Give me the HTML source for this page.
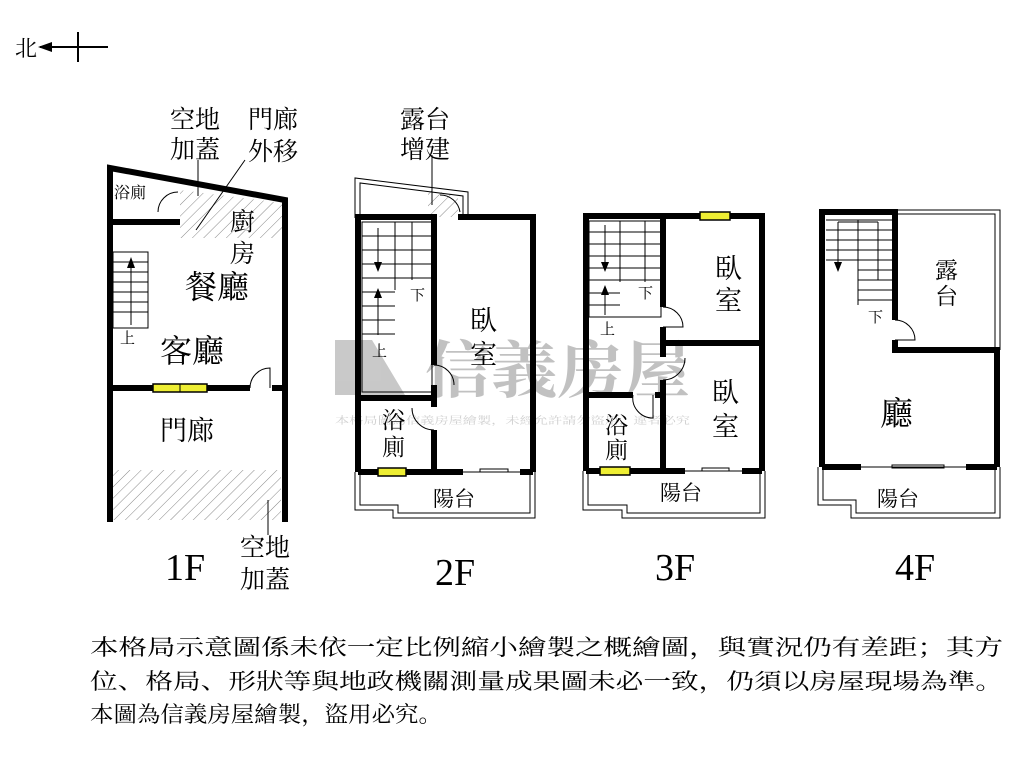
<!DOCTYPE html>
<html><head><meta charset="utf-8"><style>
body{margin:0;background:#fff;width:1024px;height:768px;overflow:hidden}
svg{position:absolute;left:0;top:0}
text{font-family:"Liberation Serif","Noto Serif CJK SC",serif;fill:#000}
</style></head><body>
<svg width="1024" height="768" viewBox="0 0 1024 768">
<defs>
<pattern id="h" width="8" height="8" patternUnits="userSpaceOnUse" patternTransform="rotate(45)">
<line x1="0" y1="0" x2="0" y2="8" stroke="#888" stroke-width="1"/></pattern>
</defs>
<!-- watermark -->
<g opacity="0.4" fill="#777">
<path d="M335 340 L372 340 L405 395 L335 395 Z"/>
<text x="425" y="392" font-size="62" font-weight="bold" font-family="Liberation Sans,Noto Sans CJK TC,sans-serif" style="fill:#666" textLength="265" lengthAdjust="spacingAndGlyphs">信義房屋</text>
<text x="335" y="424" font-size="10" style="fill:#888" textLength="355" lengthAdjust="spacingAndGlyphs">本格局圖為信義房屋繪製，未經允許請勿盜用，違者必究</text>
</g>
<!-- north -->
<text x="15" y="56" font-size="22">北</text>
<line x1="40" y1="47" x2="108" y2="47" stroke="#000" stroke-width="2"/>
<line x1="78" y1="32" x2="78" y2="62" stroke="#000" stroke-width="2"/>
<path d="M38 47 L52 42 L52 52 Z"/>
<!-- 1F -->
<rect x="113" y="470" width="168" height="50" fill="url(#h)"/>
<path d="M180 190 L283 203 L283 238 L180 238 Z" fill="url(#h)"/>
<g stroke="#000" stroke-width="6" fill="none">
<path d="M110 522 L110 168 L285 200 L285 522"/>
<line x1="110" y1="222" x2="180" y2="222"/>
<line x1="110" y1="388" x2="250" y2="388"/>
<line x1="272" y1="388" x2="285" y2="388"/>
</g>
<rect x="153" y="384" width="54" height="8" fill="#ee3" stroke="#000" stroke-width="1.5"/>
<line x1="180" y1="384" x2="180" y2="392" stroke="#000"/>
<path d="M250 388 A20 20 0 0 1 270 368 L270 388" fill="none" stroke="#000"/>
<path d="M158 212 A20 20 0 0 1 178 192" fill="none" stroke="#000"/>
<g stroke="#000" stroke-width="1" fill="none">
<rect x="113" y="252" width="35" height="76"/>
<line x1="113" y1="262" x2="148" y2="262"/><line x1="113" y1="272" x2="148" y2="272"/><line x1="113" y1="282" x2="148" y2="282"/><line x1="113" y1="292" x2="148" y2="292"/><line x1="113" y1="302" x2="148" y2="302"/><line x1="113" y1="312" x2="148" y2="312"/>
<line x1="131" y1="325" x2="131" y2="262"/>
<line x1="196" y1="230" x2="245" y2="160"/>
<line x1="198" y1="160" x2="198" y2="196"/>
<line x1="268" y1="500" x2="268" y2="535"/>
</g>
<path d="M131 257 L127 268 L135 268Z"/>
<text x="120" y="343" font-size="15">上</text>
<text x="114" y="198" font-size="16">浴廁</text>
<text x="230" y="230" font-size="25">廚</text>
<text x="230" y="262" font-size="25">房</text>
<text x="185" y="298" font-size="32">餐廳</text>
<text x="160" y="362" font-size="32">客廳</text>
<text x="160" y="440" font-size="27">門廊</text>
<text x="170" y="128" font-size="25">空地</text>
<text x="170" y="158" font-size="25">加蓋</text>
<text x="248" y="128" font-size="25">門廊</text>
<text x="248" y="160" font-size="25">外移</text>
<text x="240" y="556" font-size="25">空地</text>
<text x="240" y="588" font-size="25">加蓋</text>
<text x="165" y="580" font-size="38">1F</text>
<!-- 2F -->
<path d="M428 190 L458 195 L458 217 L428 217 Z" fill="url(#h)"/>
<g stroke="#000" stroke-width="1" fill="none">
<path d="M355 218 L355 178 L468 192 L468 218"/>
<path d="M360 218 L360 183 L463 196 L463 218"/>
<path d="M355 472 L355 510 L393 510 L393 518 L535 518 L535 472"/>
<path d="M360 472 L360 505 L398 505 L398 513 L530 513 L530 472"/>
<line x1="432" y1="155" x2="432" y2="205"/>
</g>
<g stroke="#000" stroke-width="6" fill="none">
<path d="M358 472 L358 217 L437 217"/>
<path d="M458 217 L533 217 L533 472"/>
<line x1="358" y1="472" x2="463" y2="472"/>
<line x1="520" y1="472" x2="533" y2="472"/>
<line x1="434" y1="217" x2="434" y2="365"/>
<line x1="434" y1="385" x2="434" y2="407"/>
<line x1="434" y1="430" x2="434" y2="472"/>
<line x1="358" y1="398" x2="434" y2="398"/>
</g>
<g stroke="#000" stroke-width="1" fill="none">
<rect x="362" y="222" width="70" height="170"/>
<line x1="395" y1="222" x2="395" y2="290"/><line x1="412" y1="222" x2="412" y2="280"/>
<line x1="362" y1="236" x2="432" y2="236"/><line x1="362" y1="250" x2="432" y2="250"/><line x1="362" y1="264" x2="432" y2="264"/><line x1="362" y1="278" x2="432" y2="278"/>
<line x1="362" y1="292" x2="395" y2="292"/><line x1="362" y1="306" x2="395" y2="306"/><line x1="362" y1="320" x2="395" y2="320"/><line x1="362" y1="334" x2="395" y2="334"/>
<line x1="378" y1="228" x2="378" y2="268"/><line x1="378" y1="292" x2="378" y2="335"/>
<path d="M434 365 A20 20 0 0 1 454 385"/><path d="M434 430 A22 22 0 0 1 412 408"/>
<path d="M460 212 A20 20 0 0 0 440 195"/>
<line x1="463" y1="472" x2="520" y2="472"/><rect x="480" y="469" width="28" height="3"/>
</g>
<path d="M378 272 L374 262 L382 262Z"/><path d="M378 288 L374 298 L382 298Z"/>
<rect x="378" y="468" width="28" height="8" fill="#ee3" stroke="#000" stroke-width="1.5"/>
<text x="372" y="356" font-size="15">上</text>
<text x="410" y="300" font-size="15">下</text>
<text x="470" y="330" font-size="27">臥</text>
<text x="470" y="364" font-size="27">室</text>
<text x="382" y="428" font-size="23">浴</text>
<text x="382" y="455" font-size="23">廁</text>
<text x="433" y="506" font-size="21">陽台</text>
<text x="400" y="128" font-size="25">露台</text>
<text x="400" y="158" font-size="25">增建</text>
<text x="435" y="585" font-size="38">2F</text>
<!-- 3F -->
<g stroke="#000" stroke-width="1" fill="none">
<path d="M583 471 L583 510 L622 510 L622 518 L765 518 L765 471"/>
<path d="M588 471 L588 505 L627 505 L627 513 L760 513 L760 471"/>
</g>
<g stroke="#000" stroke-width="6" fill="none">
<path d="M586 471 L586 216 L762 216 L762 471"/>
<line x1="586" y1="471" x2="685" y2="471"/><line x1="742" y1="471" x2="762" y2="471"/>
<line x1="663" y1="216" x2="663" y2="307"/>
<line x1="663" y1="327" x2="663" y2="357"/>
<line x1="663" y1="380" x2="663" y2="471"/>
<line x1="663" y1="343" x2="762" y2="343"/>
<line x1="586" y1="395" x2="633" y2="395"/><line x1="655" y1="395" x2="663" y2="395"/>
</g>
<g stroke="#000" stroke-width="1" fill="none">
<rect x="589" y="221" width="72" height="96"/>
<line x1="620" y1="221" x2="620" y2="282"/><line x1="645" y1="221" x2="645" y2="282"/>
<line x1="589" y1="232" x2="661" y2="232"/><line x1="589" y1="244" x2="661" y2="244"/><line x1="589" y1="256" x2="661" y2="256"/><line x1="589" y1="268" x2="661" y2="268"/><line x1="589" y1="280" x2="661" y2="280"/>
<line x1="589" y1="293" x2="620" y2="293"/><line x1="589" y1="305" x2="620" y2="305"/>
<line x1="605" y1="225" x2="605" y2="265"/><line x1="605" y1="287" x2="605" y2="315"/>
<path d="M663 307 A20 20 0 0 1 683 327 L663 327"/>
<path d="M663 380 A22 22 0 0 0 685 358"/>
<path d="M633 395 A20 20 0 0 0 653 418 L653 395"/>
<line x1="685" y1="471" x2="742" y2="471"/><rect x="702" y="468" width="27" height="3"/>
</g>
<path d="M605 272 L601 262 L609 262Z"/><path d="M605 285 L601 295 L609 295Z"/>
<rect x="700" y="212" width="30" height="8" fill="#ee3" stroke="#000" stroke-width="1.5"/>
<rect x="600" y="467" width="30" height="8" fill="#ee3" stroke="#000" stroke-width="1.5"/>
<text x="600" y="334" font-size="15">上</text>
<text x="638" y="298" font-size="15">下</text>
<text x="715" y="278" font-size="27">臥</text>
<text x="715" y="310" font-size="27">室</text>
<text x="712" y="402" font-size="27">臥</text>
<text x="712" y="436" font-size="27">室</text>
<text x="605" y="433" font-size="23">浴</text>
<text x="605" y="458" font-size="23">廁</text>
<text x="660" y="500" font-size="21">陽台</text>
<text x="655" y="580" font-size="38">3F</text>
<!-- 4F -->
<g stroke="#000" stroke-width="1" fill="none">
<path d="M895 210 L1000 210 L1000 350"/><path d="M895 214 L995 214 L995 350"/>
<path d="M818 467 L818 505 L851 505 L851 518 L1000 518 L1000 467"/>
<path d="M823 467 L823 500 L856 500 L856 513 L995 513 L995 467"/>
</g>
<g stroke="#000" stroke-width="6" fill="none">
<path d="M822 467 L822 212 L895 212 L895 320"/>
<path d="M895 340 L895 350 L997 350 L997 467"/>
<line x1="822" y1="467" x2="861" y2="467"/><line x1="966" y1="467" x2="997" y2="467"/>
</g>
<g stroke="#000" stroke-width="1" fill="none">
<line x1="826" y1="220" x2="893" y2="220"/>
<line x1="826" y1="230" x2="893" y2="230"/><line x1="826" y1="240" x2="893" y2="240"/><line x1="826" y1="250" x2="893" y2="250"/><line x1="826" y1="260" x2="893" y2="260"/>
<line x1="858" y1="270" x2="893" y2="270"/><line x1="858" y1="280" x2="893" y2="280"/><line x1="858" y1="290" x2="893" y2="290"/><line x1="858" y1="300" x2="893" y2="300"/>
<line x1="858" y1="220" x2="858" y2="305"/><line x1="838" y1="222" x2="838" y2="262"/><line x1="838" y1="222" x2="878" y2="222"/><line x1="878" y1="222" x2="878" y2="280"/>
<path d="M895 320 A20 20 0 0 1 915 340 L895 340"/>
<line x1="861" y1="467" x2="966" y2="467"/><rect x="892" y="465" width="52" height="3"/>
</g>
<path d="M838 272 L834 262 L842 262Z"/>
<text x="868" y="322" font-size="15">下</text>
<text x="935" y="278" font-size="23">露</text>
<text x="935" y="304" font-size="23">台</text>
<text x="880" y="425" font-size="33">廳</text>
<text x="877" y="506" font-size="21">陽台</text>
<text x="895" y="580" font-size="38">4F</text>
<!-- notes -->
<text x="90" y="655" font-size="22" textLength="913" lengthAdjust="spacingAndGlyphs">本格局示意圖係未依一定比例縮小繪製之概繪圖，與實況仍有差距；其方</text>
<text x="90" y="689" font-size="22" textLength="913" lengthAdjust="spacingAndGlyphs">位、格局、形狀等與地政機關測量成果圖未必一致，仍須以房屋現場為準。</text>
<text x="90" y="722" font-size="22" textLength="352" lengthAdjust="spacingAndGlyphs">本圖為信義房屋繪製，盜用必究。</text>
</svg>
</body></html>
